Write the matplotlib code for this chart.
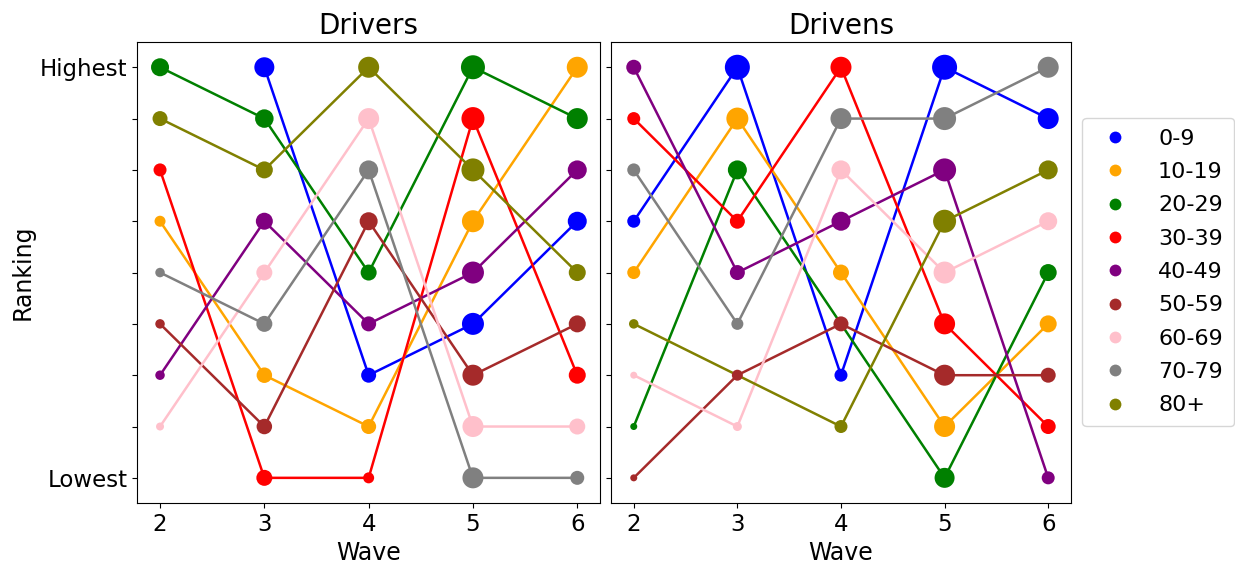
import numpy as np
import matplotlib
matplotlib.use("Agg")
import matplotlib.pyplot as plt
from matplotlib.lines import Line2D

nan = np.nan
waves = [2, 3, 4, 5, 6]
groups = ["0-9", "10-19", "20-29", "30-39", "40-49", "50-59", "60-69", "70-79", "80+"]
colors = ["blue", "orange", "green", "red", "purple", "brown", "pink", "gray", "olive"]

# Rankings (1 = lowest, 9 = highest)
drivers_rank = {
    "0-9":   [nan, 9, 3, 4, 6],
    "10-19": [6, 3, 2, 6, 9],
    "20-29": [9, 8, 5, 9, 8],
    "30-39": [7, 1, 1, 8, 3],
    "40-49": [3, 6, 4, 5, 7],
    "50-59": [4, 2, 6, 3, 4],
    "60-69": [2, 5, 8, 2, 2],
    "70-79": [5, 4, 7, 1, 1],
    "80+":   [8, 7, 9, 7, 5],
}
drivens_rank = {
    "0-9":   [6, 9, 3, 9, 8],
    "10-19": [5, 8, 5, 2, 4],
    "20-29": [2, 7, nan, 1, 5],
    "30-39": [8, 6, 9, 4, 2],
    "40-49": [9, 5, 6, 7, 1],
    "50-59": [1, 3, 4, 3, 3],
    "60-69": [3, 2, 7, 5, 6],
    "70-79": [7, 4, 8, 8, 9],
    "80+":   [4, nan, 2, 6, 7],
}
# Marker diameters (pixels)
drivers_size = {
    "0-9":   [nan, 20, 15, 22, 19],
    "10-19": [11, 15.5, 15, 22, 21],
    "20-29": [18, 18.5, 16, 24, 21],
    "30-39": [13, 16, 11, 23, 17],
    "40-49": [9.5, 17, 15, 22, 19],
    "50-59": [9.5, 15.5, 18, 21, 17],
    "60-69": [8, 16, 21, 21, 16],
    "70-79": [9.5, 16, 19, 21, 14],
    "80+":   [15, 17, 21, 23, 17],
}
drivens_size = {
    "0-9":   [13, 25, 13, 25, 21],
    "10-19": [13, 22, 16, 21, 17],
    "20-29": [7, 19, nan, 20, 17],
    "30-39": [13, 15, 21, 21, 15],
    "40-49": [15, 15, 19, 23, 13],
    "50-59": [7, 11, 15, 21, 15],
    "60-69": [7, 9, 19, 22, 18],
    "70-79": [13, 12, 21, 23, 21],
    "80+":   [9.5, nan, 13, 23, 19],
}

DPI = 100
fig = plt.figure(figsize=(12.35, 5.69), dpi=DPI)
ax1 = fig.add_axes([0.111, 0.116, 0.375, 0.81])
ax2 = fig.add_axes([0.4947, 0.116, 0.3725, 0.81])

def draw(ax, ranks, sizes, title):
    for g, c in zip(groups, colors):
        r = np.array(ranks[g], dtype=float)
        s = np.array(sizes[g], dtype=float)
        w = np.array(waves, dtype=float)
        m = ~np.isnan(r)
        ax.plot(w[m], r[m], color=c, lw=1.8, zorder=2)
        ax.scatter(w[m], r[m], s=(s[m] * 72 / DPI) ** 2, color=c, zorder=3, linewidths=0)
    ax.set_xlim(1.78, 6.22)
    ax.set_ylim(0.51, 9.49)
    ax.set_xticks(waves)
    ax.set_yticks(range(1, 10))
    ax.set_title(title, fontsize=20)
    ax.set_xlabel("Wave", fontsize=17)
    ax.tick_params(labelsize=16.5)

draw(ax1, drivers_rank, drivers_size, "Drivers")
draw(ax2, drivens_rank, drivens_size, "Drivens")
ax1.set_yticklabels(["Lowest"] + [""] * 7 + ["Highest"])
ax1.set_ylabel("Ranking", fontsize=17)
ax2.set_yticklabels([""] * 9)

handles = [Line2D([], [], marker="o", ls="", color=c, markersize=8.5, markeredgewidth=0) for c in colors]
fig.legend(handles, groups, loc="center left", bbox_to_anchor=(0.8765, 0.522), fontsize=16,
           handlelength=1.9, handletextpad=1.0, borderpad=0.5, labelspacing=0.6,
           borderaxespad=0.0)

fig.savefig("out.png", dpi=DPI)
